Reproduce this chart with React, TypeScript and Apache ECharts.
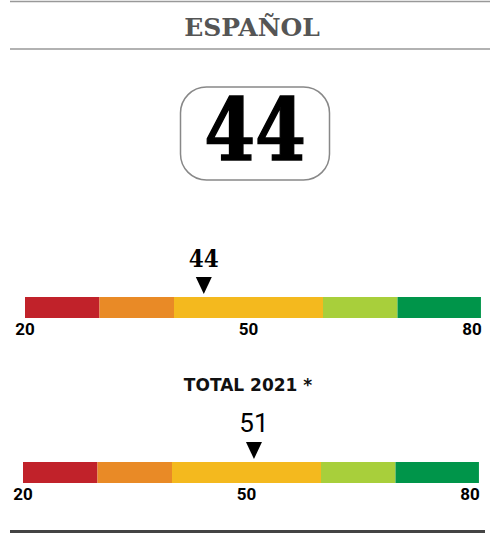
import React, { useEffect, useRef } from "react";
import * as echarts from "echarts";

const title = "ESPAÑOL";
const score = 44;
const subtitle = "TOTAL 2021 *";
const gaugeValues = [44, 51];
const bandStarts = [20, 30, 40, 60, 70];
const bandEnds = [30, 40, 60, 70, 81.2];
const bandColors = ["#C1222A", "#E98A26", "#F4B91E", "#A8CF3B", "#00954A"];
const tickLabels = [20, 50, 80];
const axisMin = 20;
const axisMax = 80;

export default function App() {
  const ref = useRef<HTMLDivElement>(null);
  useEffect(() => {
    document.body.style.margin = "0";
    const chart = echarts.init(ref.current!, null, { renderer: "svg" });
    const bandData = bandStarts.map((s, i) => [s, bandEnds[i], i]);
    const grids = [
      { left: 25, top: 297, width: 447, height: 21 },
      { left: 23, top: 462, width: 447, height: 21 },
    ];
    const markerStyles = [
      { font: "bold 24px 'DejaVu Serif'", textOffset: 38, scaleX: 0.9 },
      { font: "normal 26px Roboto", textOffset: 39, scaleX: 1 },
    ];
    const xAxes = grids.map((_, i) => ({
      gridIndex: i,
      type: "value",
      min: axisMin,
      max: axisMax,
      interval: 10,
      axisLine: { show: false },
      axisTick: { show: false },
      splitLine: { show: false },
      axisLabel: {
        show: true,
        margin: 2,
        showMinLabel: true,
        showMaxLabel: true,
        color: "#000",
        fontSize: 17,
        fontWeight: "bold",
        fontFamily: "Roboto, sans-serif",
        formatter: (v: number) => (tickLabels.includes(v) ? String(v) : ""),
      },
    }));
    const yAxes = grids.map((_, i) => ({
      gridIndex: i,
      type: "value",
      min: 0,
      max: 1,
      show: false,
    }));
    const series: any[] = [];
    grids.forEach((_, i) => {
      series.push({
        type: "custom",
        xAxisIndex: i,
        yAxisIndex: i,
        clip: false,
        data: bandData,
        renderItem: (params: any, api: any) => {
          const a = api.coord([api.value(0), 1]);
          const b = api.coord([api.value(1), 0]);
          return {
            type: "rect",
            shape: { x: a[0], y: a[1], width: b[0] - a[0], height: b[1] - a[1] },
            style: { fill: bandColors[api.value(2)] },
          };
        },
      });
      series.push({
        type: "custom",
        xAxisIndex: i,
        yAxisIndex: i,
        clip: false,
        data: [[gaugeValues[i]]],
        renderItem: (params: any, api: any) => {
          const p = api.coord([api.value(0), 1]);
          const x = p[0];
          const top = p[1];
          return {
            type: "group",
            children: [
              {
                type: "polygon",
                shape: { points: [[x - 8, top - 20], [x + 8, top - 20], [x, top - 3]] },
                style: { fill: "#000" },
              },
              {
                type: "text",
                x: x,
                y: top - markerStyles[i].textOffset,
                scaleX: markerStyles[i].scaleX,
                style: {
                  text: String(api.value(0)),
                  font: markerStyles[i].font,
                  fill: "#000",
                  align: "center",
                  verticalAlign: "middle",
                  textAlign: "center",
                  textVerticalAlign: "middle",
                },
              },
            ],
          };
        },
      });
    });
    chart.setOption({
      animation: false,
      grid: grids,
      xAxis: xAxes,
      yAxis: yAxes,
      series,
      graphic: [
        { type: "line", shape: { x1: 10, y1: 1.5, x2: 490, y2: 1.5 }, style: { stroke: "#999", lineWidth: 1.5 } },
        {
          type: "text",
          x: 252,
          y: 27,
          style: {
            text: title,
            font: "bold 25px 'DejaVu Serif'",
            fill: "#555",
            align: "center",
            verticalAlign: "middle",
            textAlign: "center",
            textVerticalAlign: "middle",
          },
        },
        { type: "line", shape: { x1: 10, y1: 49, x2: 490, y2: 49 }, style: { stroke: "#999", lineWidth: 1.5 } },
        {
          type: "rect",
          shape: { x: 180.5, y: 87, width: 149, height: 93, r: 26 },
          style: { fill: "#fff", stroke: "#888", lineWidth: 1.5 },
        },
        {
          type: "text",
          x: 255,
          y: 130,
          scaleX: 0.85,
          style: {
            text: String(score),
            font: "bold 86px 'DejaVu Serif'",
            fill: "#000",
            stroke: "#000",
            lineWidth: 1.5,
            align: "center",
            verticalAlign: "middle",
            textAlign: "center",
            textVerticalAlign: "middle",
          },
        },
        {
          type: "text",
          x: 248,
          y: 385,
          style: {
            text: subtitle,
            font: "bold 17px 'DejaVu Sans'",
            fill: "#111",
            align: "center",
            verticalAlign: "middle",
            textAlign: "center",
            textVerticalAlign: "middle",
          },
        },
        { type: "line", shape: { x1: 10, y1: 531.5, x2: 485, y2: 531.5 }, style: { stroke: "#444", lineWidth: 3 } },
      ],
    });
    return () => chart.dispose();
  }, []);
  return <div ref={ref} style={{ width: 490, height: 533 }} />;
}
